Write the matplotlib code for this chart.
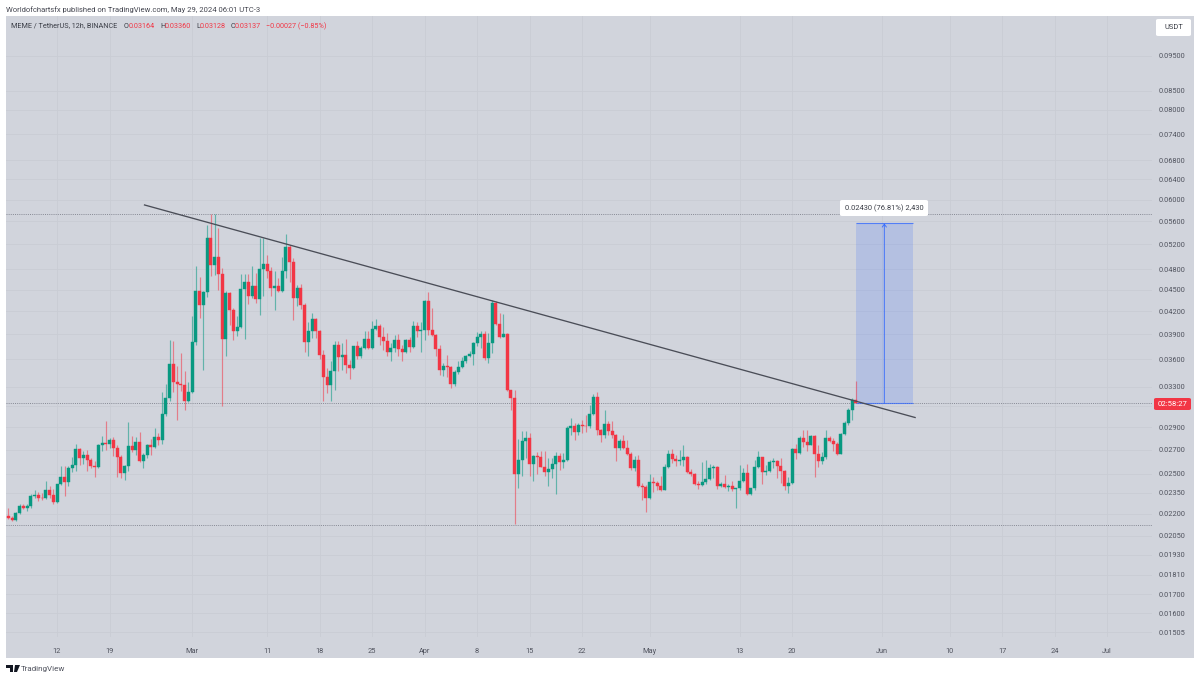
#!/usr/bin/python3
import matplotlib
matplotlib.use('Agg')
import matplotlib.pyplot as plt
import matplotlib.dates as mdates
import matplotlib.patches as patches
import numpy as np
import pandas as pd

plt.rcParams['font.family'] = ['Roboto', 'DejaVu Sans']

first_open = 0.02182
first_candle = '2024-02-05 12:00'

close = [
    .02172, .02153, .02206, .02253, .02241, .02253, .02326, .02336, .02314, .02309,
    .02376, .02336, .02284, .02417, .02473, .02435, .02548, .02573, .02705, .02629,
    .02649, .02612, .02565, .02554, .02743, .02761, .02752, .02785, .02717, .02634,
    .02504, .02559, .02729, .02699, .02767, .02604, .02652, .02743, .02726, .02811,
    .02782, .03028, .03179, .03545, .03347, .03326, .03323, .03153, .03246, .03808,
    .04476, .04285, .04467, .05308, .04869, .04991, .04738, .03849, .04457, .04218,
    .03940, .03997, .04515, .04617, .04416, .04559, .04372, .04813, .04890, .04783,
    .04525, .04549, .04486, .04783, .05152, .04917, .04382, .04530, .04290, .03808,
    .03946, .04102, .03946, .03657, .03402, .03315, .03474, .03772, .03634, .03649,
    .03537, .03504, .03756, .03645, .03739, .03841, .03739, .03965, .04012, .03865,
    .03821, .03684, .03735, .03837, .03727, .03684, .03837, .03744, .04012, .03943,
    .03961, .04340, .03961, .03898, .03723, .03478, .03530, .03515, .03333, .03460,
    .03515, .03580, .03645, .03660, .03793, .03873, .03902, .03615, .03789, .04313,
    .04038, .03869, .03910, .03263, .03182, .02493, .02612, .02776, .02800, .02581,
    .02643, .02632, .02556, .02514, .02540, .02578, .02643, .02592, .02612, .02895,
    .02915, .02859, .02921, .02912, .02906, .03025, .03193, .02872, .02826, .02927,
    .02869, .02829, .02714, .02773, .02714, .02660, .02543, .02612, .02401, .02392,
    .02311, .02435, .02427, .02401, .02374, .02554, .02665, .02618, .02601, .02609,
    .02632, .02516, .02496, .02417, .02409, .02430, .02461, .02548, .02551, .02399,
    .02420, .02397, .02401, .02379, .02384, .02445, .02506, .02339, .02384, .02556,
    .02632, .02516, .02524, .02592, .02601, .02559, .02519, .02401, .02427, .02708,
    .02674, .02803, .02764, .02743, .02820, .02665, .02601, .02632, .02797, .02773,
    .02752, .02665, .02841, .02943, .03065, .03164, .03137,
]
high = [
    .02241, .02182, .02211, .02270, .02272, .02272, .02339, .02376, .02356, .02351,
    .02445, .02401, .02381, .02422, .02559, .02559, .02559, .02637, .02752, .02714,
    .02685, .02693, .02629, .02601, .02749, .02823, .02955, .02800, .02811, .02735,
    .02649, .02573, .02946, .02817, .02811, .02856, .02671, .02749, .02794, .02891,
    .02847, .03243, .03333, .03837, .03825, .03522, .03676, .03467, .03355, .04141,
    .04859, .04682, .04476, .05540, .05740, .05740, .05482, .04823, .04476, .04467,
    .04245, .04132, .04738, .04738, .04738, .04859, .04748, .05308, .05308, .05033,
    .04833, .04773, .04672, .04996, .05381, .05197, .04980, .04573, .04587, .04313,
    .04055, .04177, .04110, .03961, .03707, .03504, .03580, .03817, .03817, .03797,
    .03845, .03599, .03764, .03817, .03756, .03948, .03940, .04068, .04098, .04038,
    .03995, .03918, .03797, .03898, .03906, .03776, .03845, .03869, .04068, .04055,
    .04060, .04358, .04462, .04245, .03910, .03768, .03561, .03657, .03530, .03486,
    .03580, .03630, .03657, .03695, .03808, .03927, .03940, .03940, .03918, .04358,
    .04335, .04177, .04168, .03918, .03270, .03270, .02788, .02862, .02862, .02847,
    .02657, .02677, .02685, .02685, .02629, .02629, .02677, .02671, .02671, .02909,
    .02986, .02934, .02940, .02971, .03012, .03117, .03229, .03246, .02886, .03068,
    .02955, .02955, .02841, .02788, .02832, .02779, .02680, .02643, .02649, .02427,
    .02407, .02493, .02473, .02440, .02479, .02581, .02699, .02705, .02657, .02699,
    .02743, .02643, .02540, .02506, .02440, .02595, .02615, .02581, .02573, .02559,
    .02432, .02488, .02415, .02440, .02389, .02568, .02546, .02581, .02389, .02615,
    .02685, .02637, .02573, .02615, .02629, .02615, .02629, .02532, .02473, .02714,
    .02752, .02823, .02873, .02873, .02826, .02826, .02743, .02680, .02873, .02817,
    .02803, .02764, .02847, .02955, .03084, .03182, .03360,
]
low = [
    .02163, .02148, .02148, .02196, .02229, .02218, .02241, .02314, .02287, .02296,
    .02306, .02314, .02272, .02279, .02407, .02326, .02401, .02511, .02519, .02573,
    .02581, .02519, .02546, .02473, .02543, .02685, .02693, .02714, .02643, .02473,
    .02463, .02451, .02519, .02677, .02649, .02598, .02543, .02629, .02657, .02714,
    .02743, .02749, .03009, .03153, .03243, .02965, .03253, .03061, .03146, .03236,
    .03768, .04110, .03486, .04392, .04697, .04723, .04501, .03100, .03645, .04024,
    .03837, .03877, .03979, .03849, .04304, .04382, .04313, .04155, .04406, .04672,
    .04406, .04222, .04467, .04462, .04667, .04607, .04089, .04276, .04231, .03684,
    .03638, .03857, .03857, .03607, .03153, .03236, .03153, .03263, .03467, .03486,
    .03449, .03387, .03493, .03607, .03622, .03727, .03727, .03727, .03952, .03776,
    .03707, .03638, .03584, .03684, .03638, .03584, .03676, .03684, .03739, .03869,
    .03684, .03837, .03898, .03885, .03638, .03431, .03413, .03406, .03288, .03312,
    .03442, .03504, .03561, .03630, .03541, .03764, .03735, .03599, .03561, .03676,
    .04024, .03857, .03869, .03250, .03068, .02125, .02387, .02479, .02629, .02479,
    .02440, .02493, .02551, .02479, .02401, .02466, .02344, .02532, .02546, .02599,
    .02832, .02779, .02832, .02847, .02853, .02892, .03018, .02832, .02767, .02803,
    .02826, .02803, .02599, .02699, .02705, .02649, .02532, .02519, .02397, .02296,
    .02214, .02306, .02356, .02371, .02364, .02371, .02546, .02587, .02559, .02568,
    .02559, .02506, .02479, .02412, .02381, .02401, .02422, .02448, .02466, .02381,
    .02397, .02389, .02364, .02364, .02241, .02376, .02437, .02331, .02331, .02376,
    .02546, .02415, .02486, .02516, .02546, .02466, .02427, .02371, .02346, .02415,
    .02623, .02665, .02723, .02685, .02740, .02471, .02551, .02578, .02623, .02767,
    .02685, .02657, .02663, .02826, .02924, .02965, .03128,
]

price_ticks = [0.095, 0.085, 0.08, 0.074, 0.068, 0.064, 0.06, 0.056, 0.052, 0.048, 0.045,
               0.042, 0.039, 0.036, 0.033, 0.029, 0.027, 0.025, 0.0235, 0.022,
               0.0205, 0.0193, 0.0181, 0.017, 0.016, 0.01505]
date_ticks = ['2024-02-12', '2024-02-19', '2024-03-01', '2024-03-11', '2024-03-18', '2024-03-25',
              '2024-04-01', '2024-04-08', '2024-04-15', '2024-04-22', '2024-05-01', '2024-05-13',
              '2024-05-20', '2024-06-01', '2024-06-10', '2024-06-17', '2024-06-24', '2024-07-01']
date_labels = ['12', '19', 'Mar', '11', '18', '25', 'Apr', '8', '15', '22', 'May', '13', '20',
               'Jun', '10', '17', '24', 'Jul']

# horizontal levels
session_high = 0.0574
session_low = 0.02123
last_price = 0.03137
# grid line whose label sits behind the countdown tag
hidden_tick = 0.031
# trend line and measure box
trend_dates = ['2024-02-23 14:00', '2024-06-05 12:00']
trend_prices = [0.05902, 0.02989]
box_dates = ['2024-05-28 12:00', '2024-06-05 03:00']
box_prices = [0.0313, 0.0556]

BG = '#d1d4dc'
GRID = '#c9ccd4'
GREEN = '#089981'
RED = '#f23645'
BLUE = '#2962ff'
TXT = '#50535e'

W, H = 1200, 680
fig = plt.figure(figsize=(12, 6.8), dpi=100, facecolor='white')


def px(x, y):
    return x / W, 1 - y / H


# whole panel
fig.patches.append(patches.Rectangle(px(6, 658), 1188 / W, 642 / H, transform=fig.transFigure,
                                     facecolor=BG, edgecolor='none', zorder=-5))

ax = fig.add_axes([6 / W, 1 - 637 / H, 1146 / W, 621 / H])
ax.patch.set_alpha(0)
for s in ax.spines.values():
    s.set_visible(False)

dates = pd.date_range(first_candle, periods=len(close), freq='12h')
x = mdates.date2num(dates)
opens = np.array([first_open] + close[:-1])
c = np.array(close)
h = np.array(high)
l = np.array(low)
colors = np.where(c >= opens, GREEN, RED)

ax.vlines(x, l, h, colors=colors, linewidth=0.85, alpha=0.55, zorder=3)
ax.bar(x, np.abs(c - opens), bottom=np.minimum(c, opens), width=0.4, color=colors,
       edgecolor=colors, linewidth=0.3, zorder=4)

mar1 = mdates.date2num(pd.Timestamp('2024-03-01'))
ax.set_yscale('log')
ax.set_xlim(mar1 + (6 - 192) / 7.5, mar1 + (1152 - 192) / 7.5)
ax.set_ylim(0.01483, 0.1079)

ax.yaxis.tick_right()
ax.set_yticks(price_ticks)
ax.set_yticklabels(['%.5f' % p for p in price_ticks])
ax.yaxis.set_minor_locator(matplotlib.ticker.NullLocator())
ax.set_xticks(mdates.date2num(pd.to_datetime(date_ticks)))
ax.set_xticklabels(date_labels)
ax.tick_params(axis='both', length=0, labelsize=5.35, labelcolor=TXT)
ax.tick_params(axis='y', pad=5)
ax.tick_params(axis='x', pad=8)
ax.grid(True, color=GRID, linewidth=0.6, zorder=0)
ax.set_axisbelow(True)
ax.axhline(hidden_tick, color=GRID, linewidth=0.6, zorder=0)

for level in [session_high, session_low, last_price]:
    ax.axhline(level, color='#868994', linewidth=0.7, linestyle=(0, (1, 1.2)), zorder=2)

# measure tool
bx = mdates.date2num(pd.to_datetime(box_dates))
ax.fill_between(bx, box_prices[0], box_prices[1], color=BLUE, alpha=0.17, linewidth=0, zorder=2)
ax.hlines(box_prices, bx[0], bx[1], color=BLUE, linewidth=0.8, alpha=0.7, zorder=3)
mid = bx.mean()
ax.annotate('', xy=(mid, box_prices[1]), xytext=(mid, box_prices[0]),
            arrowprops=dict(arrowstyle='->,head_length=0.2,head_width=0.15', color=BLUE, linewidth=0.7,
                            alpha=0.8, shrinkA=0, shrinkB=0), zorder=5)

# trend line
ax.plot(mdates.date2num(pd.to_datetime(trend_dates)), trend_prices, color='#4a4d57', linewidth=0.95,
        zorder=5, solid_capstyle='butt')


def label_box(x0, y0, x1, y1, color):
    fig.patches.append(patches.FancyBboxPatch(px(x0, y1), (x1 - x0) / W, (y1 - y0) / H,
                                              boxstyle='round,pad=0,rounding_size=0.002',
                                              transform=fig.transFigure, facecolor=color,
                                              edgecolor='none', zorder=6))


label_box(840, 200, 928, 216, 'white')
fig.text(884 / W, 1 - 208 / H, '0.02430 (76.81%) 2,430', fontsize=5.45, color='#3a3d46', ha='center',
         va='center', zorder=7)
label_box(1156, 19, 1191, 36, 'white')
fig.text(1173.5 / W, 1 - 27.5 / H, 'USDT', fontsize=5.4, color='#3a3d46', ha='center', va='center', zorder=7)
label_box(1154, 398, 1191, 410, RED)
fig.text(1172.5 / W, 1 - 404 / H, '02:58:27', fontsize=5.6, color='white', ha='center', va='center', zorder=7)

# header
fig.text(6 / W, 1 - 9.5 / H, 'Worldofchartsfx published on TradingView.com, May 29, 2024 06:01 UTC-3',
         fontsize=5.46, color='#444650', va='center')
fig.text(11 / W, 1 - 26 / H, 'MEME / TetherUS, 12h, BINANCE', fontsize=5.25, color='#3a3d46', va='center')
for xp, txt, col in [(124, 'O', '#3a3d46'), (129, '0.03164', RED), (160, 'H', '#3a3d46'), (165, '0.03360', RED),
                     (196, 'L', '#3a3d46'), (200, '0.03128', RED), (231, 'C', '#3a3d46'), (235, '0.03137', RED),
                     (266, '\u22120.00027 (\u22120.85%)', RED)]:
    fig.text(xp / W, 1 - 26 / H, txt, fontsize=5.25, color=col, va='center')

# footer logo
for pts in [[(6, 665), (13, 665), (13, 672), (10, 672), (10, 668), (6, 668)],
            [(15, 665), (20, 665), (17, 672), (14, 672)]]:
    fig.patches.append(patches.Polygon([px(*p) for p in pts], closed=True, transform=fig.transFigure,
                                       facecolor='#131722', edgecolor='none'))
fig.text(21 / W, 1 - 669 / H, 'TradingView', fontsize=5.8, color='#50535e', va='center')

fig.savefig('out.png', dpi=100, facecolor='white')
